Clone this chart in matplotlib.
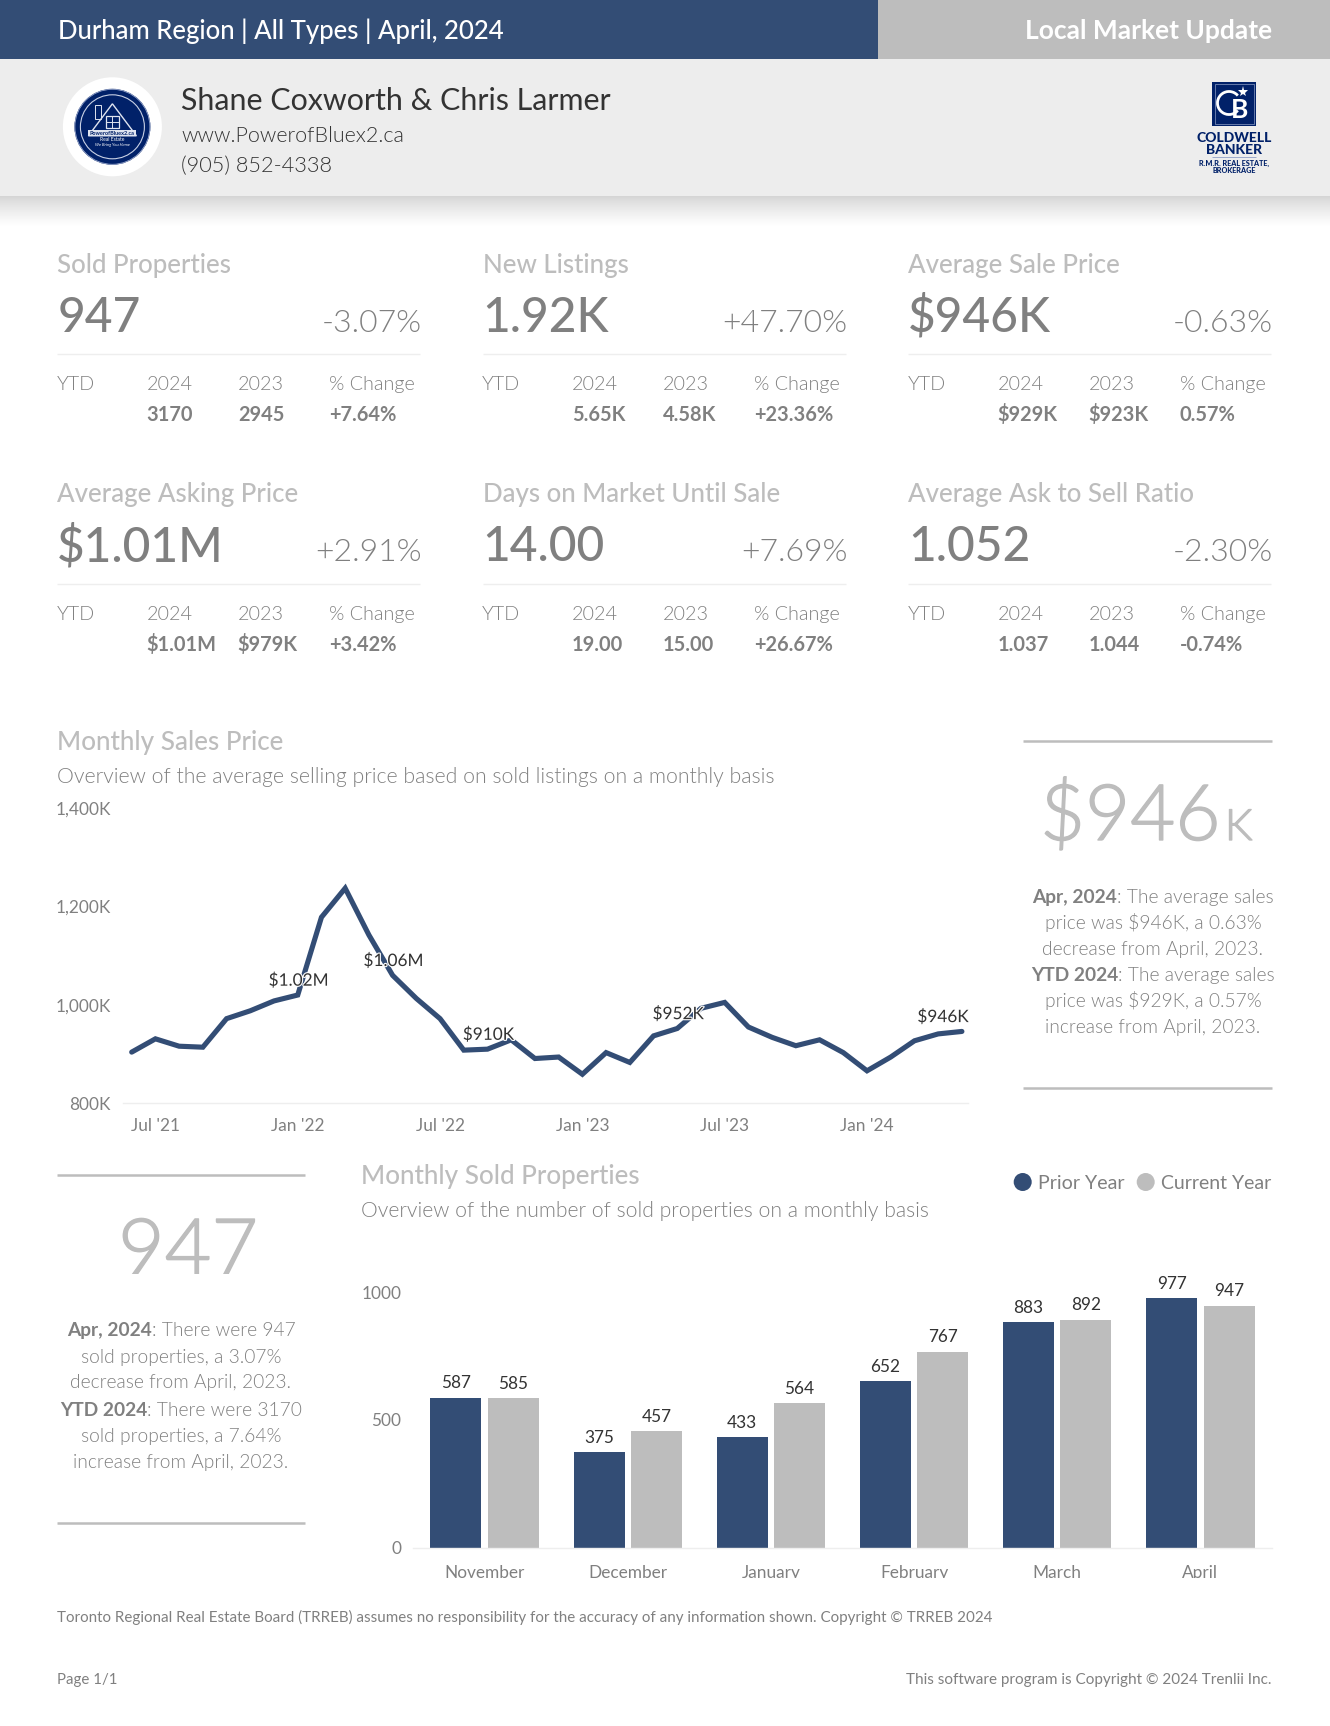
import numpy as np
import matplotlib
matplotlib.use("Agg")
import matplotlib.pyplot as plt
import matplotlib.patheffects as pe
from matplotlib.patches import Rectangle, Circle, Polygon, Arc
from matplotlib.transforms import Bbox

# ---------- data ----------
stat_titles = ["Sold Properties", "New Listings", "Average Sale Price",
               "Average Asking Price", "Days on Market Until Sale", "Average Ask to Sell Ratio"]
stat_values = ["947", "1.92K", "$946K", "$1.01M", "14.00", "1.052"]
stat_changes = ["-3.07%", "+47.70%", "-0.63%", "+2.91%", "+7.69%", "-2.30%"]
ytd_2024 = ["3170", "5.65K", "$929K", "$1.01M", "19.00", "1.037"]
ytd_2023 = ["2945", "4.58K", "$923K", "$979K", "15.00", "1.044"]
ytd_change = ["+7.64%", "+23.36%", "0.57%", "+3.42%", "+26.67%", "-0.74%"]

price_values = [904, 931, 916, 914, 972, 988, 1008, 1020, 1178, 1237, 1142, 1060,
                1013, 972, 908, 910, 929, 891, 894, 859, 903, 883, 937, 952,
                993, 1005, 955, 934, 917, 929, 903, 866, 894, 927, 941, 946]
price_ticks = [1, 7, 13, 19, 25, 31]
price_tick_labels = ["Jul '21", "Jan '22", "Jul '22", "Jan '23", "Jul '23", "Jan '24"]
price_y_ticks = [800, 1000, 1200, 1400]
price_labels = {7: "$1.02M", 11: "$1.06M", 15: "$910K", 23: "$952K", 35: "$946K"}

months = ["November", "December", "January", "February", "March", "April"]
prior_year = [587, 375, 433, 652, 883, 977]
current_year = [585, 457, 564, 767, 892, 947]
sold_y_ticks = [0, 500, 1000]

price_panel = [("Apr, 2024", ": The average sales"), ("", "price was $946K, a 0.63%"),
               ("", "decrease from April, 2023."), ("YTD 2024", ": The average sales"),
               ("", "price was $929K, a 0.57%"), ("", "increase from April, 2023.")]
sold_panel = [("Apr, 2024", ": There were 947"), ("", "sold properties, a 3.07%"),
              ("", "decrease from April, 2023."), ("YTD 2024", ": There were 3170"),
              ("", "sold properties, a 7.64%"), ("", "increase from April, 2023.")]

# ---------- style ----------
NAVY = "#334d75"
GREY = "#bdbdbd"
MID = "#808080"
DARK = "#333333"
LOGO = "#012169"
LIGHT = 300
W, H = 1330, 1726
plt.rcParams["font.family"] = ["Lato", "DejaVu Sans"]

fig = plt.figure(figsize=(W / 100, H / 100), dpi=100, facecolor="white")
bg = fig.add_axes([0, 0, 1, 1], zorder=0)
bg.set_xlim(0, W)
bg.set_ylim(H, 0)
bg.axis("off")


def px_axes(x0, y0, x1, y1, z=2):
    ax = fig.add_axes([x0 / W, 1 - y1 / H, (x1 - x0) / W, (y1 - y0) / H], zorder=z)
    ax.patch.set_alpha(0)
    return ax


def T(x, y, s, size, color=MID, weight="normal", ha="left", va="baseline", **kw):
    return bg.text(x, y, s, fontsize=size, color=color, fontweight=weight, ha=ha, va=va, **kw)


def rule(x0, x1, y, color, lw):
    bg.plot([x0, x1], [y, y], color=color, lw=lw, solid_capstyle="butt")


# ---------- header ----------
bg.add_patch(Rectangle((0, 0), 878, 59, color=NAVY, lw=0))
bg.add_patch(Rectangle((878, 0), W - 878, 59, color=GREY, lw=0))
bg.add_patch(Rectangle((0, 59), W, 137, color="#ededed", lw=0))
grad = np.linspace(0, 1, 64).reshape(-1, 1) ** 0.8
bg.imshow(grad, cmap="gray", vmin=-4.9, vmax=1, extent=(0, W, 226, 196), aspect="auto", zorder=0.5,
          interpolation="bilinear")
bg.set_xlim(0, W)
bg.set_ylim(H, 0)
T(57.5, 38.8, "Durham Region | All Types | April, 2024", 18.55, "white", "medium")
T(1272, 38.8, "Local Market Update", 19, "white", "bold", ha="right")
T(181, 110, "Shane Coxworth & Chris Larmer", 21.9, DARK)
T(181, 142, "www.PowerofBluex2.ca", 15.5, DARK, LIGHT)
T(181, 171.7, "(905) 852-4338", 15.7, DARK, LIGHT)

# round logo
cx, cy = 112.4, 126.8
INK = "#dfe4f0"
bg.add_patch(Circle((cx, cy), 49.5, color="white", lw=0, zorder=1))
bg.add_patch(Circle((cx, cy), 38, color=LOGO, lw=0, zorder=1.1))
bg.add_patch(Circle((cx, cy), 37.5, fill=False, ec="#9aa8cc", lw=0.6, zorder=1.2))
bg.add_patch(Circle((cx, cy), 32, fill=False, ec="#c8d0e4", lw=0.8, zorder=1.2))
bg.add_patch(Polygon([(cx - 24, cy + 9), (cx, cy - 23), (cx + 24, cy + 9)], closed=True, fill=False,
                     ec=INK, lw=1, zorder=1.2))
bg.add_patch(Rectangle((95, 105), 6, 14, fill=False, ec=INK, lw=0.7, zorder=1.2))
bg.add_patch(Rectangle((105.7, 115.7), 13.3, 12.6, fill=False, ec=INK, lw=0.9, zorder=1.2))
bg.plot([112.35, 112.35], [115.7, 128.3], color=INK, lw=0.7, zorder=1.2)
bg.plot([105.7, 119], [122, 122], color=INK, lw=0.7, zorder=1.2)
bg.add_patch(Rectangle((cx - 24, cy + 3), 48, 6, color=INK, lw=0, zorder=1.2))
T(cx, cy + 8, "PowerofBluex2.ca", 4, LOGO, "bold", ha="center", zorder=1.3)
T(cx, cy + 14, "Real Estate", 3.6, "white", ha="center", zorder=1.3)
T(cx, cy + 19.5, "We Bring You Home", 3, "white", ha="center", style="italic", zorder=1.3)

# Coldwell Banker logo
bg.add_patch(Rectangle((1212.3, 82), 44, 44, color=LOGO, lw=0, zorder=1))
bg.add_patch(Rectangle((1214.5, 84.2), 39.6, 39.6, fill=False, ec="#8f9fc6", lw=0.5, zorder=1.1))
bg.add_patch(Arc((1229, 103), 23, 23, theta1=40, theta2=320, color="white", lw=2, zorder=1.2))
T(1239.5, 118, "B", 19, "white", "bold", ha="center", zorder=1.3)
bg.plot([1242.7], [91.7], marker="*", ms=8, color="white", mew=0, zorder=1.2)
T(1234, 141.5, "COLDWELL", 10, LOGO, "black", ha="center")
T(1234, 153.5, "BANKER", 10, LOGO, "black", ha="center")
rule(1212, 1256, 157, "#8f9fc6", 0.6)
T(1234, 166.3, "R.M.R. REAL ESTATE,", 5.2, LOGO, "black", ha="center")
T(1234, 172.8, "BROKERAGE", 5.2, LOGO, "black", ha="center")

# ---------- KPI grid ----------
col_x = [57.3, 482.6, 908]
row_dy = [0, 229.7]
for i in range(6):
    x0 = col_x[i % 3]
    dy = row_dy[i // 3]
    T(x0, 272.7 + dy, stat_titles[i], 18.6, GREY, "medium")
    T(x0, 331.7 + dy, stat_values[i], 34.5, MID, "medium")
    T(x0 + 365, 331.7 + dy, stat_changes[i], 23, MID, LIGHT, ha="right")
    rule(x0, x0 + 363, 354.3 + dy, "#eeeeee", 1)
    T(x0 - 0.5, 390 + dy, "YTD", 14.2, MID, LIGHT)
    T(x0 + 89.5, 390 + dy, "2024", 14.2, MID, LIGHT)
    T(x0 + 180.5, 390 + dy, "2023", 14.2, MID, LIGHT)
    T(x0 + 271.5, 390 + dy, "% Change", 14.2, MID, LIGHT)
    T(x0 + 89.5, 421 + dy, ytd_2024[i], 14.4, MID, "bold")
    T(x0 + 180.5, 421 + dy, ytd_2023[i], 14.4, MID, "bold")
    T(x0 + 271.5, 421 + dy, ytd_change[i], 14.4, MID, "bold")

# ---------- section heads ----------
T(57.3, 749.5, "Monthly Sales Price", 18.7, GREY, "medium")
T(57.3, 783, "Overview of the average selling price based on sold listings on a monthly basis", 15.28, MID, LIGHT)
T(361, 1183.8, "Monthly Sold Properties", 18.7, GREY, "medium")
T(361, 1217.3, "Overview of the number of sold properties on a monthly basis", 15.25, MID, LIGHT)

# ---------- line chart ----------
ax1 = px_axes(123.3, 808, 968.3, 1103.3)
ax1.plot(range(len(price_values)), price_values, color=NAVY, lw=3.7, solid_joinstyle="miter",
         solid_capstyle="round", clip_on=False, zorder=2)
ax1.set_xlim(-0.354, 35.27)
ax1.set_ylim(800, 1400)
ax1.set_xticks(price_ticks, price_tick_labels)
ax1.set_yticks(price_y_ticks, [f"{v:,}K" for v in price_y_ticks])
ax1.tick_params(axis="both", length=0, labelcolor=MID, labelsize=12.4)
ax1.tick_params(axis="x", pad=10.8)
ax1.tick_params(axis="y", pad=9)
for s in ("top", "right", "left"):
    ax1.spines[s].set_visible(False)
ax1.spines["bottom"].set_color("#eeeeee")
ax1.spines["bottom"].set_linewidth(1)
halo = [pe.withStroke(linewidth=1.6, foreground="white")]
for idx, lab in price_labels.items():
    last = idx == len(price_values) - 1
    ax1.annotate(lab, (idx, price_values[idx]), xytext=(5 if last else 0.7, 10.5), textcoords="offset points",
                 ha="right" if last else "center", va="center", fontsize=12.4, color=DARK,
                 path_effects=halo, zorder=3, annotation_clip=False)

# ---------- bar chart ----------
ax2 = px_axes(413, 1292, 1272, 1547.7)
xs = np.arange(len(months))
bw, gap = 0.356, 0.044
b1 = ax2.bar(xs - (bw + gap) / 2, prior_year, bw, color=NAVY, zorder=2)
b2 = ax2.bar(xs + (bw + gap) / 2, current_year, bw, color=GREY, zorder=2)
ax2.set_xlim(-0.5, 5.5)
ax2.set_ylim(0, 1000)
ax2.set_xticks(xs, months)
ax2.set_yticks(sold_y_ticks, [str(v) for v in sold_y_ticks])
ax2.tick_params(axis="both", length=0, labelcolor=MID, labelsize=12.4)
ax2.tick_params(axis="x", pad=12.7)
ax2.tick_params(axis="y", pad=8.4)
for s in ("top", "right", "left"):
    ax2.spines[s].set_visible(False)
ax2.spines["bottom"].set_color("#eeeeee")
ax2.spines["bottom"].set_linewidth(1)
for group in (b1, b2):
    ax2.bar_label(group, padding=4.5, fontsize=12.4, color=DARK, clip_on=False)
clip = Bbox.from_extents(0, H - 1578, W, H)
for t in ax2.get_xticklabels():
    t.set_clip_on(True)
    t.set_clip_box(clip)

# legend
bg.add_patch(Circle((1022.7, 1182), 9, color=NAVY, lw=0))
T(1038, 1189.3, "Prior Year", 14.1, MID)
bg.add_patch(Circle((1145.7, 1182), 9, color=GREY, lw=0))
T(1271.5, 1189.3, "Current Year", 14, MID, ha="right")

# ---------- side panels ----------
renderer = fig.canvas.get_renderer()


def mixed(cx_, y, bold, light, size=13.8):
    t2 = T(0, y, light, size, MID, LIGHT)
    w2 = t2.get_window_extent(renderer).width
    w1 = 0
    if bold:
        t1 = T(0, y, bold, size, MID, "bold")
        w1 = t1.get_window_extent(renderer).width
        t1.set_x(cx_ - (w1 + w2) / 2)
    t2.set_x(cx_ - (w1 + w2) / 2 + w1)


thicken = [pe.withStroke(linewidth=1.0, foreground=GREY)]
rule(1023.3, 1271.7, 741, GREY, 1.8)
rule(1023.3, 1271.7, 1088, GREY, 1.8)
T(1040, 840, "$946", 56, GREY, LIGHT, path_effects=thicken)
T(1225, 840, "K", 31, GREY, LIGHT, path_effects=thicken)
for (b, l), y in zip(price_panel, [902.7, 929.3, 955, 980.7, 1007.3, 1033.3]):
    mixed(1153, y, b, l)

rule(57.3, 305, 1175, GREY, 1.8)
rule(57.3, 305, 1522.7, GREY, 1.8)
t947 = T(188, 1276, "947", 58, GREY, LIGHT, ha="center", path_effects=thicken)
t947.set_clip_on(True)
t947.set_clip_box(Bbox.from_extents(0, H - 1274, W, H))
for (b, l), y in zip(sold_panel, [1336, 1362.7, 1388.3, 1415.7, 1441.7, 1467.7]):
    mixed(181, y, b, l)

# ---------- footer ----------
T(57.3, 1622, "Toronto Regional Real Estate Board (TRREB) assumes no responsibility for the accuracy of any information shown. Copyright © TRREB 2024", 10.87, MID)
T(57.3, 1683.5, "Page 1/1", 10.8, MID)
T(1272, 1683.5, "This software program is Copyright © 2024 Trenlii Inc.", 10.95, MID, ha="right")

fig.savefig("out.png", dpi=100, facecolor="white")
